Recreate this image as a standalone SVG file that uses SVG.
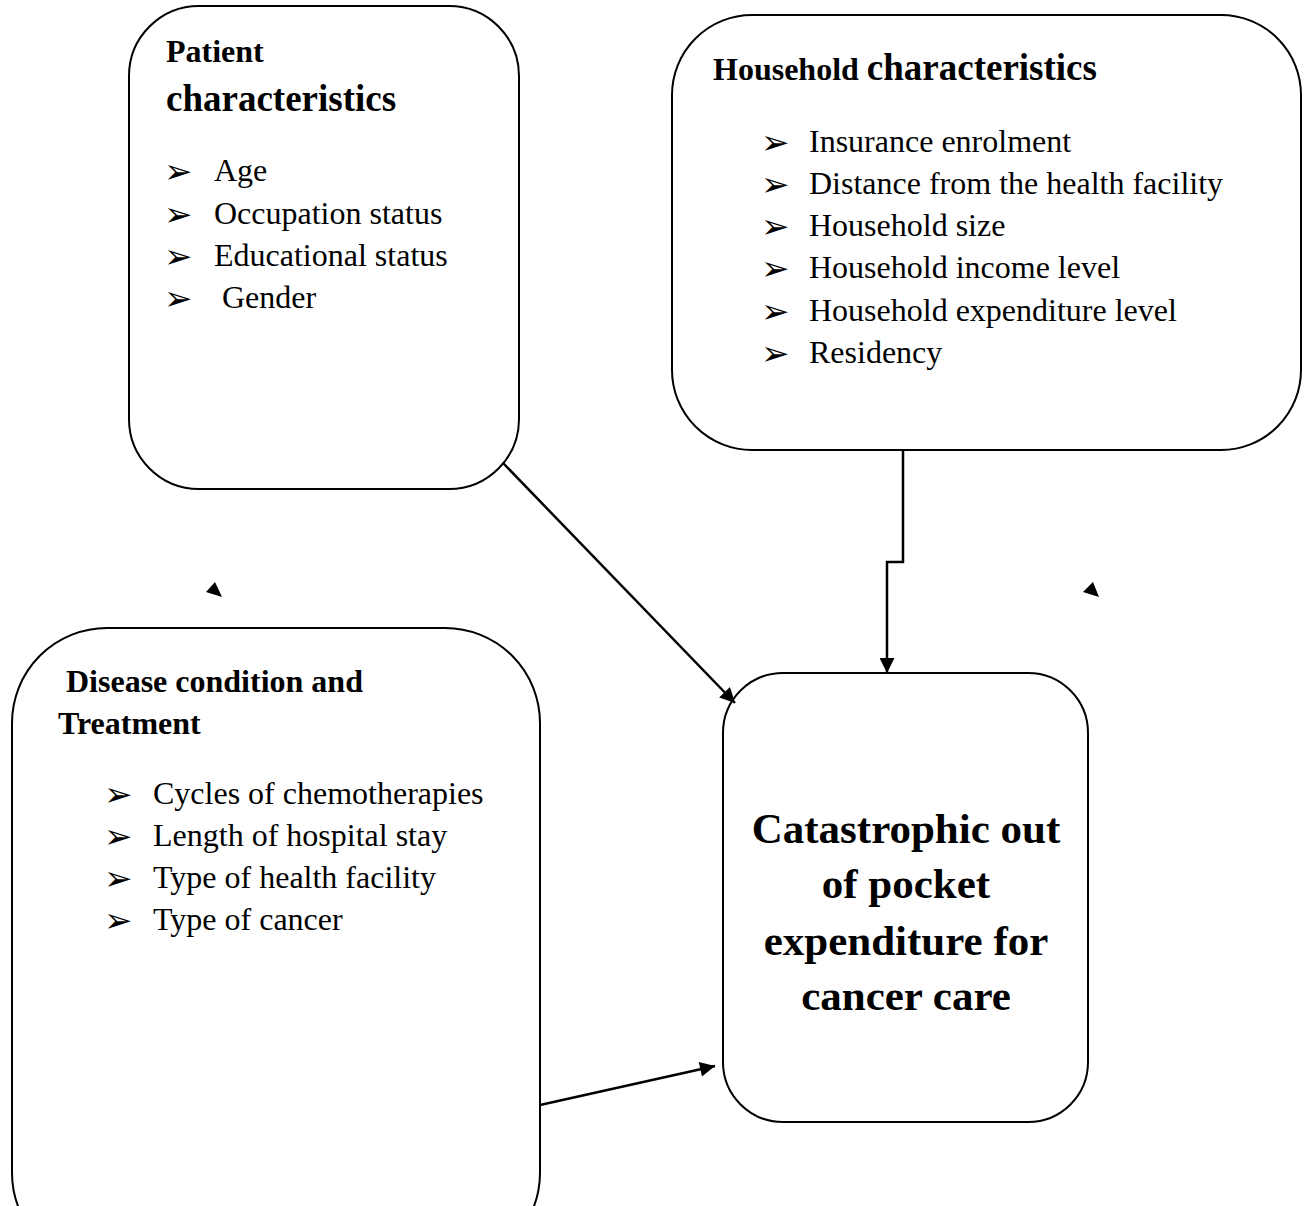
<svg xmlns="http://www.w3.org/2000/svg" width="1304" height="1206" viewBox="0 0 1304 1206">
<defs>
<style>
.box{fill:#fff;stroke:#000;stroke-width:2}
.t{font-family:"Liberation Serif","Times New Roman",serif;fill:#000}
.item{font-size:32px}
.hs{font-size:32px;font-weight:bold}
.hl{font-size:37px;font-weight:bold}
.big{font-size:43px;font-weight:bold;text-anchor:middle}
.bul{font-family:"DejaVu Sans",sans-serif;font-size:34px;fill:#000}
.conn{fill:none;stroke:#000;stroke-width:2.5}
</style>
<marker id="ah" viewBox="0 0 10 10" refX="10" refY="5" markerWidth="7" markerHeight="6" markerUnits="strokeWidth" orient="auto">
<path d="M0,0 L10,5 L0,10 z" fill="#000"/>
</marker>
</defs>
<rect width="1304" height="1206" fill="#fff"/>

<g id="patient">
<rect class="box" x="129" y="6" width="390" height="483" rx="70" ry="70"/>
<text class="t hs" x="166" y="62">Patient</text>
<text class="t hl" x="166" y="111">characteristics</text>
<text class="bul" x="164" y="183">➢</text><text class="t item" x="214" y="181">Age</text>
<text class="bul" x="164" y="226">➢</text><text class="t item" x="214" y="224">Occupation status</text>
<text class="bul" x="164" y="268">➢</text><text class="t item" x="214" y="266">Educational status</text>
<text class="bul" x="164" y="310">➢</text><text class="t item" x="222" y="308">Gender</text>
</g>

<g id="household">
<rect class="box" x="672" y="15" width="629" height="435" rx="80" ry="80"/>
<text class="t" x="713" y="80"><tspan class="hs">Household </tspan><tspan class="hl">characteristics</tspan></text>
<text class="bul" x="761" y="154">➢</text><text class="t item" x="809" y="152">Insurance enrolment</text>
<text class="bul" x="761" y="196">➢</text><text class="t item" x="809" y="194">Distance from the health facility</text>
<text class="bul" x="761" y="238">➢</text><text class="t item" x="809" y="236">Household size</text>
<text class="bul" x="761" y="280">➢</text><text class="t item" x="809" y="278">Household income level</text>
<text class="bul" x="761" y="323">➢</text><text class="t item" x="809" y="321">Household expenditure level</text>
<text class="bul" x="761" y="365">➢</text><text class="t item" x="809" y="363">Residency</text>
</g>

<g id="disease">
<rect class="box" x="12" y="628" width="528" height="640" rx="95" ry="95"/>
<text class="t hs" x="66" y="692">Disease condition and</text>
<text class="t hs" x="58" y="734">Treatment</text>
<text class="bul" x="104" y="806">➢</text><text class="t item" x="153" y="804">Cycles of chemotherapies</text>
<text class="bul" x="104" y="848">➢</text><text class="t item" x="153" y="846">Length of hospital stay</text>
<text class="bul" x="104" y="890">➢</text><text class="t item" x="153" y="888">Type of health facility</text>
<text class="bul" x="104" y="932">➢</text><text class="t item" x="153" y="930">Type of cancer</text>
</g>

<g id="outcome">
<rect class="box" x="723" y="673" width="365" height="449" rx="60" ry="60"/>
<text class="t big" x="906" y="843">Catastrophic out</text>
<text class="t big" x="906" y="898">of pocket</text>
<text class="t big" x="906" y="955">expenditure for</text>
<text class="t big" x="906" y="1010">cancer care</text>
</g>

<g id="connectors">
<path class="conn" d="M503,463 L735,703" marker-end="url(#ah)"/>
<path class="conn" d="M903,450 L903,562 L887,562 L887,673" marker-end="url(#ah)"/>
<path class="conn" d="M540,1105 L715,1066" marker-end="url(#ah)"/>
<path d="M215,582 L206,592 L222,597 z" fill="#000"/>
<path d="M1093,582 L1083,592 L1099,597 z" fill="#000"/>
</g>
</svg>
